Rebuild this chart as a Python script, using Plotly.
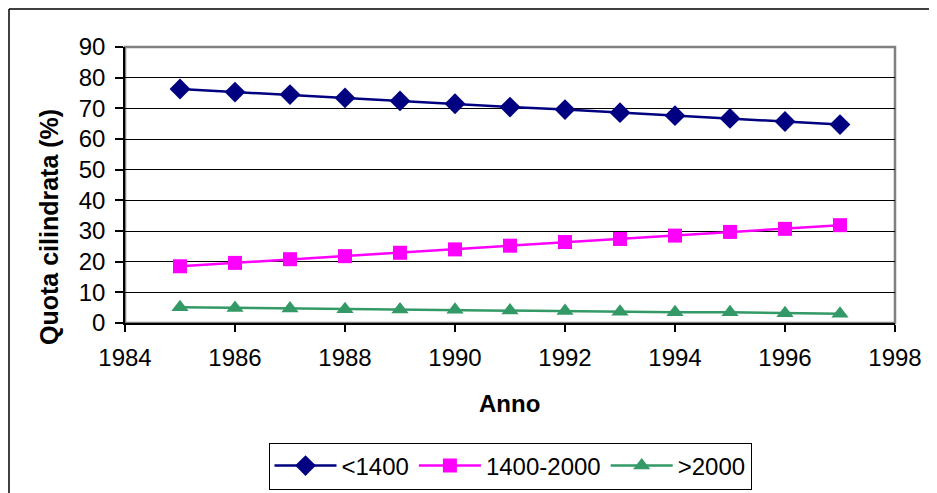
import plotly.graph_objects as go

years = [1985, 1986, 1987, 1988, 1989, 1990, 1991, 1992, 1993, 1994, 1995, 1996, 1997]
small = [76.3, 75.3, 74.5, 73.4, 72.4, 71.5, 70.4, 69.6, 68.6, 67.6, 66.7, 65.7, 64.7]
medium = [18.5, 19.6, 20.8, 21.8, 22.9, 24.0, 25.2, 26.4, 27.4, 28.5, 29.7, 30.7, 31.9]
large = [5.1, 4.9, 4.7, 4.5, 4.4, 4.3, 4.1, 3.9, 3.7, 3.5, 3.5, 3.2, 3.0]
series_names = ["<1400", "1400-2000", ">2000"]

FONT = "Liberation Sans, Arial, sans-serif"
OFF = 8  # default page margin of the html body

fig = go.Figure()
fig.add_trace(go.Scatter(x=years, y=small, name=series_names[0], mode="lines+markers",
                         line=dict(color="#000080", width=2.5),
                         marker=dict(symbol="diamond", size=16, color="#000080")))
fig.add_trace(go.Scatter(x=years, y=medium, name=series_names[1], mode="lines+markers",
                         line=dict(color="#FF00FF", width=2.5),
                         marker=dict(symbol="square", size=14, color="#FF00FF")))
fig.add_trace(go.Scatter(x=years, y=large, name=series_names[2], mode="lines+markers",
                         line=dict(color="#339966", width=2.5),
                         marker=dict(symbol="triangle-up", size=15, color="#339966")))

# reference pixel geometry (page coords)
W, H = 937 - OFF, 493 - OFF
L = 125 - OFF
T = 47 - OFF
R = (937 - OFF) - (895 - OFF)
B = (493 - OFF) - (323 - OFF)
pw, ph = W - L - R, H - T - B

def px_x(p):
    return (p - OFF - L) / pw

def px_y(p):
    return (H - B - (p - OFF)) / ph

fig.update_layout(
    width=W, height=H,
    margin=dict(l=L, r=R, t=T, b=B, autoexpand=False),
    paper_bgcolor="white", plot_bgcolor="white",
    font=dict(family=FONT, size=24, color="black"),
    showlegend=True,
    legend=dict(orientation="h", xref="container", yref="container",
                x=(510 - OFF) / W, xanchor="center",
                y=1 - (466 - OFF) / H, yanchor="middle",
                bordercolor="black", borderwidth=1, font=dict(size=24),
                itemwidth=62, tracegroupgap=0),
    xaxis=dict(range=[1984, 1998], dtick=2, tick0=1984, showgrid=False, zeroline=False,
               showline=True, linecolor="black", linewidth=1.5,
               ticks="outside", ticklen=7, tickcolor="black", tickwidth=1.5,
               tickfont=dict(size=24), ticklabelstandoff=5),
    yaxis=dict(range=[0, 90], dtick=10, showgrid=True, gridcolor="black", gridwidth=1,
               zeroline=False, showline=True, linecolor="black", linewidth=1.5,
               ticks="outside", ticklen=8, tickcolor="black", tickwidth=1.5,
               tickfont=dict(size=24), ticklabelstandoff=5),
    shapes=[
        dict(type="rect", xref="paper", yref="paper", x0=0, x1=1, y0=0, y1=1,
             line=dict(color="#808080", width=2.5), layer="below"),
        dict(type="line", xref="paper", yref="paper", x0=px_x(9), x1=px_x(950),
             y0=px_y(9), y1=px_y(9), line=dict(color="black", width=1.5)),
        dict(type="line", xref="paper", yref="paper", x0=px_x(9), x1=px_x(9),
             y0=px_y(9), y1=px_y(510), line=dict(color="black", width=1.5)),
    ],
    annotations=[
        dict(text="<b>Quota cilindrata (%)</b>", xref="paper", yref="paper",
             x=px_x(49), y=px_y(227), textangle=-90, showarrow=False,
             font=dict(size=25), xanchor="center", yanchor="middle"),
        dict(text="<b>Anno</b>", xref="paper", yref="paper",
             x=px_x(509), y=px_y(403), showarrow=False,
             font=dict(size=24), xanchor="center", yanchor="middle"),
    ],
)

fig.write_html("out.html")
